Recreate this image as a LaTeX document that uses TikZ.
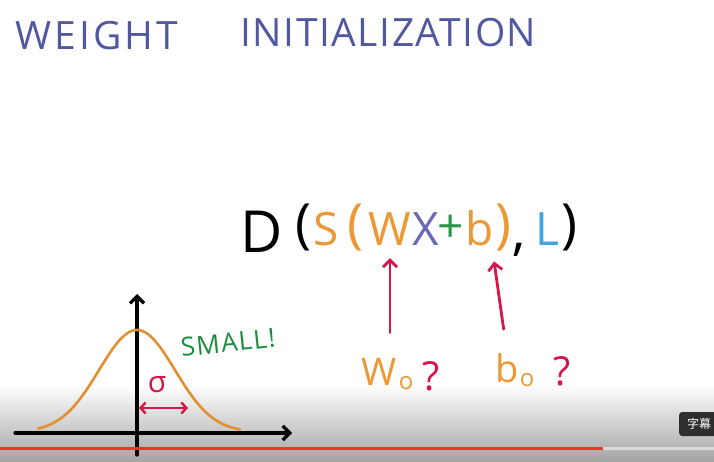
\documentclass[tikz,border=0pt]{standalone}
\usepackage{fontspec}
\setmainfont{Open Sans}
\newfontfamily\cjk{Noto Sans CJK SC}
\usetikzlibrary{arrows.meta}

\definecolor{titleblue}{RGB}{82,88,160}
\definecolor{sorange}{RGB}{236,152,52}
\definecolor{xblue}{RGB}{104,104,180}
\definecolor{pgreen}{RGB}{40,150,70}
\definecolor{lblue}{RGB}{62,165,222}
\definecolor{qred}{RGB}{212,22,72}
\definecolor{sgreen}{RGB}{28,140,62}
\definecolor{barred}{RGB}{236,52,42}

\begin{document}
\begin{tikzpicture}[x=1pt,y=-1pt,>={Straight Barb[length=7pt,width=14pt]},
  sym/.style={anchor=base,inner sep=0pt,font=\fontsize{46}{46}\selectfont},
  par/.style={anchor=base,inner sep=0pt,font=\fontsize{54}{54}\selectfont},
  lab/.style={anchor=base,inner sep=0pt,font=\fontsize{38}{38}\selectfont,text=sorange},
  sub/.style={anchor=base,inner sep=0pt,font=\fontsize{24}{24}\selectfont,text=sorange},
  qmark/.style={anchor=base,inner sep=0pt,font=\fontsize{40}{40}\selectfont,text=qred},
  redarr/.style={->,qred,line width=2.8pt,line cap=round},
  axis/.style={->,black,line width=3.2pt,line cap=round}]
\useasboundingbox (0,0) rectangle (714,462);
% player shading at the bottom
\shade[top color=white,bottom color=black!36] (0,385) rectangle (714,462);

% title
\node[anchor=base west,inner sep=0pt,text=titleblue,font=\fontsize{39}{39}\selectfont\addfontfeatures{LetterSpace=8}] (t1) at (15,50) {WEIGHT};
\node[anchor=base west,inner sep=0pt,text=titleblue,font=\fontsize{39}{39}\selectfont\addfontfeatures{LetterSpace=4}] (t2) at (240,47) {INITIALIZATION};

% loss expression
\node[sym,font=\fontsize{58}{58}\selectfont] (d) at (262,252) {D};
\node[par] (p1) at (303,243) {(};
\node[sym,text=sorange] (s) at (326,246) {S};
\node[par,text=sorange] (p2) at (355,243) {(};
\node[sym,text=sorange] (w) at (390,246) {W};
\node[sym,text=xblue] (x) at (426,246) {X};
\node[sym,text=pgreen] (plus) at (451,243) {+};
\node[sym,text=sorange] (b) at (480,246) {b};
\node[par,text=sorange] (p3) at (503,243) {)};
\node[par] (comma) at (519,250) {,};
\node[sym,text=lblue] (l) at (547,246) {L};
\node[par] (p4) at (569,243) {)};

% initial values
\node[lab] (wlab) at (379,385) {W};
\node[sub] (wsub) at (406,389) {o};
\node[qmark] (wq) at (431,390) {?};
\node[lab] (blab) at (507,382) {b};
\node[sub] (bsub) at (527,386) {o};
\node[qmark] (bq) at (562,385) {?};

\draw[redarr,shorten <=25pt,shorten >=12pt] (wlab.north -| w.south) -- (w.south);
\draw[redarr,shorten <=24pt,shorten >=15pt] (blab.north) -- ([xshift=12pt]b.south);

% gaussian
\coordinate (o) at (137,433);
\coordinate (xend) at (292,433);
\coordinate (xstart) at (15,433);
\coordinate (ytop) at (137,294);
\coordinate (ybot) at (137,455);
\draw[axis] (xstart) -- (xend);
\draw[axis] (ybot) -- (ytop);
\draw[sorange!95!black,line width=2.6pt,line cap=round] plot[domain=38:240,samples=80,smooth] (\x,{432-102*exp(-((\x-137)^2)/(2*38^2))});
\node[anchor=base,inner sep=0pt,text=sgreen,rotate=6,font=\fontsize{26}{26}\selectfont\addfontfeatures{LetterSpace=5}] (small) at (229,352) {SMALL!};
\node[anchor=base,inner sep=0pt,text=qred,font=\fontsize{30}{30}\selectfont] (sigma) at (157,392) {σ};
\coordinate (sl) at (139,408);
\coordinate (sr) at (188,408);
\draw[<->,qred,line width=2.4pt,>={Straight Barb[length=5pt,width=11pt]}] (sl) -- (sr);

% progress bar and caption button
\fill[barred] (0,447) rectangle (603,450);
\fill[black!15] (603,447) rectangle (714,450);
\node[anchor=west,fill=black!82,rounded corners=3pt,text=white,inner xsep=8pt,minimum height=24pt,font=\cjk\fontsize{12}{12}\selectfont] (cc) at (679,424) {字幕};
\end{tikzpicture}
\end{document}
